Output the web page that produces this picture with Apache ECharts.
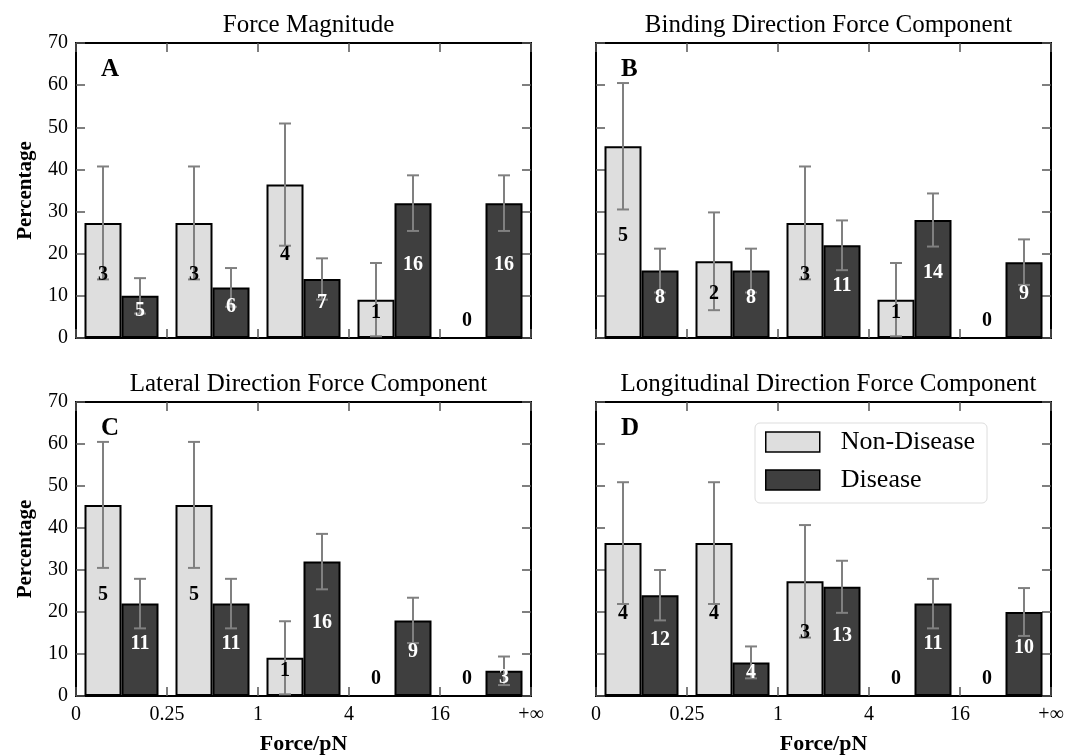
<!DOCTYPE html>
<html><head><meta charset="utf-8">
<script src="https://cdn.jsdelivr.net/npm/echarts@6/dist/echarts.min.js"></script>
<style>html,body{margin:0;padding:0;background:#fff}#c{width:1079px;height:756px}</style>
</head><body><div id="c"></div>
<script>
// ---- data ----
const binTicks = ['0', '0.25', '1', '4', '16', '+\u221E'];
const panelTitles = ['Force Magnitude', 'Binding Direction Force Component', 'Lateral Direction Force Component', 'Longitudinal Direction Force Component'];
const panelLetters = ['A', 'B', 'C', 'D'];
const seriesNames = ['Non-Disease', 'Disease'];

const magNonPct = [27.3, 27.3, 36.4, 9.1, 0];
const magNonErr = [13.4, 13.4, 14.5, 8.7, 0];
const magNonN   = [3, 3, 4, 1, 0];
const magDisPct = [10, 12, 14, 32, 32];
const magDisErr = [4.2, 4.6, 4.9, 6.6, 6.6];
const magDisN   = [5, 6, 7, 16, 16];

const bindNonPct = [45.5, 18.2, 27.3, 9.1, 0];
const bindNonErr = [15.0, 11.6, 13.4, 8.7, 0];
const bindNonN   = [5, 2, 3, 1, 0];
const bindDisPct = [16, 16, 22, 28, 18];
const bindDisErr = [5.2, 5.2, 5.9, 6.3, 5.4];
const bindDisN   = [8, 8, 11, 14, 9];

const latNonPct = [45.5, 45.5, 9.1, 0, 0];
const latNonErr = [15.0, 15.0, 8.7, 0, 0];
const latNonN   = [5, 5, 1, 0, 0];
const latDisPct = [22, 22, 32, 18, 6];
const latDisErr = [5.9, 5.9, 6.6, 5.4, 3.4];
const latDisN   = [11, 11, 16, 9, 3];

const lonNonPct = [36.4, 36.4, 27.3, 0, 0];
const lonNonErr = [14.5, 14.5, 13.4, 0, 0];
const lonNonN   = [4, 4, 3, 0, 0];
const lonDisPct = [24, 8, 26, 22, 20];
const lonDisErr = [6.0, 3.8, 6.2, 5.9, 5.7];
const lonDisN   = [12, 4, 13, 11, 10];

const yTickMin = 0, yTickMax = 70, yTickStep = 10;

// ---- layout / style ----
const FONT = "'Liberation Serif', 'Times New Roman', serif";
const BAR_W = 37;
const TICK_LEN = 9;
const panels = [
  { non: [magNonPct, magNonErr, magNonN], dis: [magDisPct, magDisErr, magDisN] },
  { non: [bindNonPct, bindNonErr, bindNonN], dis: [bindDisPct, bindDisErr, bindDisN] },
  { non: [latNonPct, latNonErr, latNonN], dis: [latDisPct, latDisErr, latDisN] },
  { non: [lonNonPct, lonNonErr, lonNonN], dis: [lonDisPct, lonDisErr, lonDisN] }
];
const gridRects = [
  { left: 76, top: 43, width: 455, height: 295 },
  { left: 596, top: 43, width: 455, height: 295 },
  { left: 76, top: 402, width: 455, height: 295 },
  { left: 596, top: 402, width: 455, height: 295 }
];
const NON_FILL = '#dedede', DIS_FILL = '#3f3f3f';

const grids = [], xAxes = [], yAxes = [], series = [], titles = [];
function tickStyle() {
  return { show: true, inside: true, length: TICK_LEN, lineStyle: { color: '#555', width: 1.5 } };
}

gridRects.forEach((r, g) => {
  const bottom = g >= 2, leftCol = g % 2 === 0;
  grids.push(Object.assign({ show: true, borderColor: '#000', borderWidth: 2, backgroundColor: 'transparent' }, r));
  xAxes.push({
    gridIndex: g, type: 'value', min: 0, max: binTicks.length - 1, interval: 1, position: 'bottom',
    axisLine: { show: false, onZero: false }, axisTick: tickStyle(), splitLine: { show: false },
    axisLabel: { show: bottom, inside: false, margin: 9, fontSize: 20, fontFamily: FONT, color: '#000',
      formatter: v => binTicks[Math.round(v)] },
    name: bottom ? 'Force/pN' : '', nameLocation: 'middle', nameGap: 37,
    nameTextStyle: { fontSize: 22, fontWeight: 'bold', fontFamily: FONT, color: '#000' }
  });
  xAxes.push({
    gridIndex: g, type: 'value', min: 0, max: binTicks.length - 1, interval: 1, position: 'top',
    axisLine: { show: false, onZero: false }, axisTick: tickStyle(), splitLine: { show: false }, axisLabel: { show: false }
  });
  yAxes.push({
    gridIndex: g, type: 'value', min: yTickMin, max: yTickMax, interval: yTickStep, position: 'left',
    axisLine: { show: false, onZero: false }, axisTick: tickStyle(), splitLine: { show: false },
    axisLabel: { show: leftCol, inside: false, margin: 8, fontSize: 20, fontFamily: FONT, color: '#000' },
    name: leftCol ? 'Percentage' : '', nameLocation: 'middle', nameGap: 40, nameRotate: 90,
    nameTextStyle: { fontSize: 21, fontWeight: 'bold', fontFamily: FONT, color: '#000' }
  });
  yAxes.push({
    gridIndex: g, type: 'value', min: yTickMin, max: yTickMax, interval: yTickStep, position: 'right',
    axisLine: { show: false, onZero: false }, axisTick: tickStyle(), splitLine: { show: false }, axisLabel: { show: false }
  });

  const p = panels[g];
  [[p.non, NON_FILL, -1, '#000', seriesNames[0]], [p.dis, DIS_FILL, 1, '#fff', seriesNames[1]]].forEach(([arr, fill, side, tcol, name]) => {
    const [pct, err, cnt] = arr;
    series.push({
      type: 'bar', name: name, xAxisIndex: 2 * g, yAxisIndex: 2 * g,
      barWidth: BAR_W, barGap: '0%', silent: true, z: 2,
      itemStyle: { color: fill, borderColor: '#000', borderWidth: 2 },
      data: pct.map((v, i) => [i + 0.5, v])
    });
    series.push({
      type: 'custom', xAxisIndex: 2 * g, yAxisIndex: 2 * g, z: 5, silent: true,
      data: pct.map((v, i) => [i + 0.5, v, err[i], cnt[i]]),
      renderItem: function (params, api) {
        const x = api.value(0), v = api.value(1), e = api.value(2), n = api.value(3);
        const px = api.coord([x, v])[0] + side * BAR_W / 2;
        const ch = [];
        if (e > 0) {
          const lo = api.coord([x, v - e])[1], hi = api.coord([x, v + e])[1];
          const ls = { stroke: '#808080', lineWidth: 2 };
          ch.push({ type: 'line', shape: { x1: px, y1: lo, x2: px, y2: hi }, style: ls });
          ch.push({ type: 'line', shape: { x1: px - 6, y1: lo, x2: px + 6, y2: lo }, style: ls });
          ch.push({ type: 'line', shape: { x1: px - 6, y1: hi, x2: px + 6, y2: hi }, style: ls });
        }
        const ty = v > 0 ? api.coord([x, v / 2])[1] - 6 : api.coord([x, 0])[1] - 17;
        ch.push({ type: 'text', style: { text: String(n), x: px, y: ty, align: 'center', verticalAlign: 'middle',
          font: 'bold 20px ' + FONT, fill: tcol } });
        return { type: 'group', children: ch };
      }
    });
  });

  titles.push({ text: panelTitles[g], left: r.left + r.width / 2, top: r.top - 35, textAlign: 'center',
    textStyle: { fontSize: 25, fontWeight: 'normal', fontFamily: FONT, color: '#000' } });
  titles.push({ text: panelLetters[g], left: r.left + 20, top: r.top + 9,
    textStyle: { fontSize: 25, fontWeight: 'bold', fontFamily: FONT, color: '#000' } });
});

const chart = echarts.init(document.getElementById('c'), null, { renderer: 'canvas' });
chart.setOption({
  animation: false,
  backgroundColor: '#fff',
  title: titles,
  legend: {
    data: seriesNames, orient: 'vertical', left: 755, top: 423, selectedMode: false,
    backgroundColor: '#fff', borderColor: '#ddd', borderWidth: 1, borderRadius: 5,
    padding: [6, 12, 10, 10], itemWidth: 54, itemHeight: 20, itemGap: 12, icon: 'rect',
    itemStyle: { borderColor: '#000', borderWidth: 1.5 },
    textStyle: { fontSize: 26, fontFamily: FONT, color: '#000', padding: [0, 0, 0, 16] }
  },
  grid: grids, xAxis: xAxes, yAxis: yAxes, series: series
});
</script></body></html>
